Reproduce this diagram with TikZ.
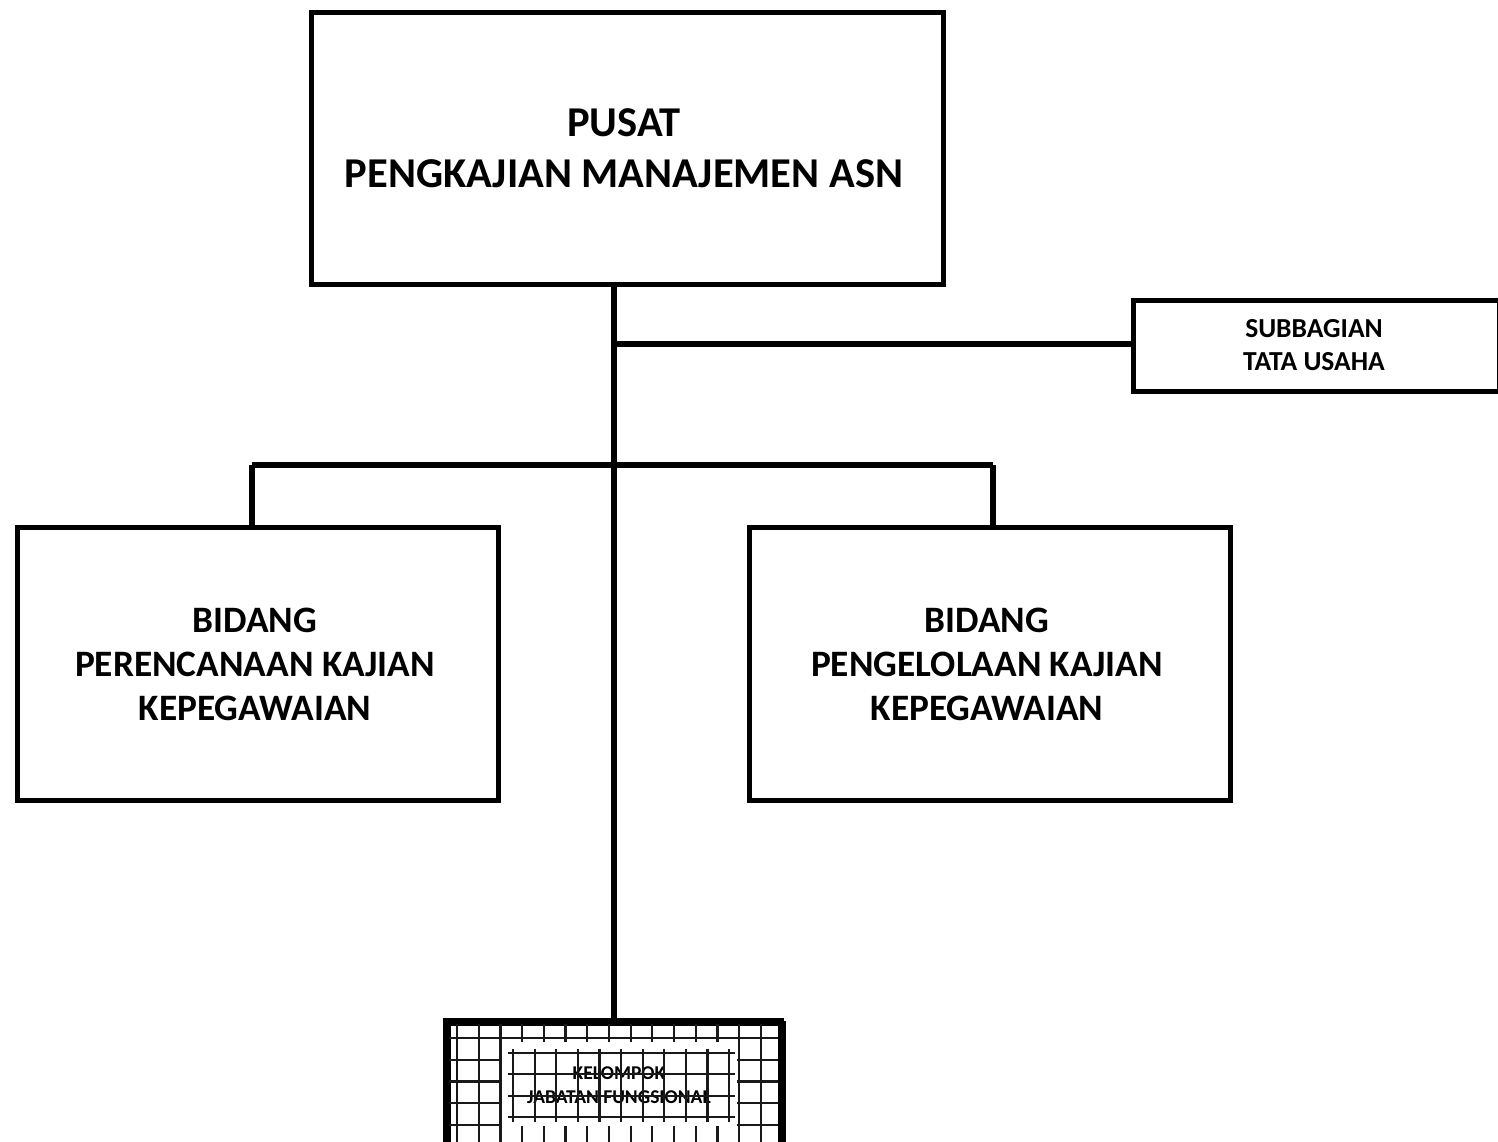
\documentclass[tikz,border=0pt]{standalone}
\usepackage{fontspec}
\setmainfont{Carlito}
\begin{document}
\begin{tikzpicture}[x=1pt,y=-1pt,
  unitbox/.style={draw=black,line width=5pt,fill=white,anchor=north west,inner sep=0pt},
  link/.style={draw=black,line width=5.5pt},
  gridline/.style={draw=black!90,line width=2.2pt},
  bigtext/.style={font=\fontsize{42.5}{51}\selectfont\bfseries,align=center},
  midtext/.style={font=\fontsize{37.3}{44}\selectfont\bfseries,align=center},
  smalltext/.style={font=\fontsize{27.5}{33}\selectfont\bfseries,align=center},
  tinytext/.style={font=\fontsize{19.5}{24}\selectfont\bfseries,align=center}]
\useasboundingbox (0,0) rectangle (1498,1141);
\clip (0,0) rectangle (1498,1141);
\fill[white] (0,0) rectangle (1498,1141);

% junction points on the trunk
\coordinate (jsub) at (614,344);
\coordinate (barL) at (252,465);
\coordinate (barR) at (993,465);

% connectors
\draw[link] (614,282) -- (614,1021);
\draw[link] (jsub) -- (1131,344);
\draw[link] (barL) -- (barR);
\draw[link] (barL) -- (252,525);
\draw[link] (barR) -- (993,525);

% head unit
\node[unitbox,minimum width=632pt,minimum height=272pt] (pusat) at (309,10) {};
\node[bigtext] (pusatT) at (624,148) {PUSAT\\PENGKAJIAN MANAJEMEN ASN};

% administrative sub-unit
\node[unitbox,minimum width=366pt,minimum height=91pt] (sub) at (1131,298) {};
\node[smalltext] (subT) at (1314,345) {SUBBAGIAN\\TATA USAHA};

% divisions
\node[unitbox,minimum width=481pt,minimum height=273pt] (bidL) at (15,525) {};
\node[midtext] (bidLT) at (255,664) {BIDANG\\PERENCANAAN KAJIAN\\KEPEGAWAIAN};
\node[unitbox,minimum width=481pt,minimum height=273pt] (bidR) at (747,525) {};
\node[midtext] (bidRT) at (987,664) {BIDANG\\PENGELOLAAN KAJIAN\\KEPEGAWAIAN};

% functional group box with grid hatching
\node[unitbox,minimum width=335pt,minimum height=140pt] (kel) at (446,1021) {};
\begin{scope}
  \clip (448.5,1023.5) rectangle (778.5,1160);
  \foreach \i in {0,...,15} \draw[gridline] ({457+21.7*\i},1021) -- ({457+21.7*\i},1160);
  \foreach \j in {0,...,5} \draw[gridline] (446,{1038+21.7*\j}) -- (781,{1038+21.7*\j});
\end{scope}
\fill[white] (502,1042) rectangle (737,1126);
\node[tinytext] (kelT) at (619,1085) {KELOMPOK\\JABATAN FUNGSIONAL};
\foreach \i in {0,...,10} \draw[gridline] ({513+21.6*\i},1049) -- ({513+21.6*\i},1122);
\foreach \j in {0,...,3} \draw[gridline] (508,{1053+21.3*\j}) -- (735,{1053+21.3*\j});
\draw[draw=black,line width=6pt] (446,1160) -- (446,1021) -- (781,1021) -- (781,1160);
\end{tikzpicture}
\end{document}
